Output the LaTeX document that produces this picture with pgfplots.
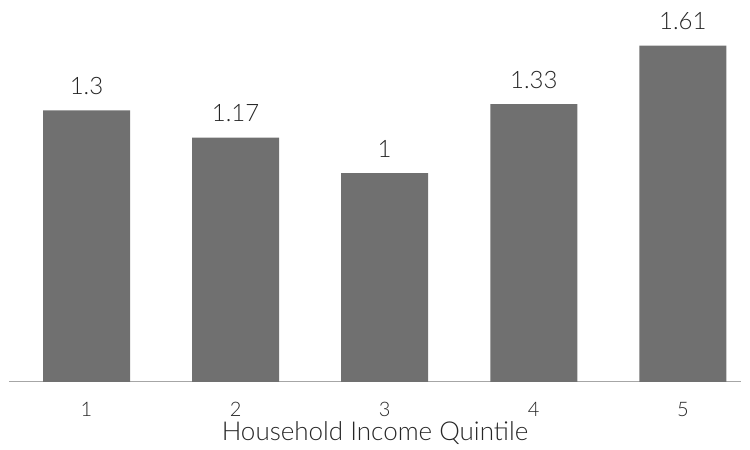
\documentclass[border=0pt]{standalone}
\usepackage{pgfplots}
\pgfplotsset{compat=1.18}
\usepackage{fontspec}
\setmainfont{Lato}[UprightFont=*-Light]
\definecolor{barc}{HTML}{707070}
\definecolor{axc}{HTML}{A6A6A6}
\begin{document}
\begin{tikzpicture}
\useasboundingbox (0,0) rectangle (750pt,450pt);
\begin{axis}[
  at={(9pt,68pt)}, anchor=south west,
  scale only axis, width=732pt, height=382pt,
  xmin=0.48, xmax=5.39, ymin=0, ymax=1.828,
  axis y line=none, axis x line*=bottom,
  axis line style={axc, line width=1pt, -},
  xtick={1,2,3,4,5}, xtick style={draw=none},
  ytick=\empty,
  xticklabel style={font=\fontsize{20}{24}\selectfont, text=black!85, anchor=center, yshift=-23pt, inner sep=1pt},
  xlabel={Household Income Quintile},
  xlabel style={font=\fontsize{26}{30}\selectfont, text=black!85, at={(axis description cs:0.5,0)}, anchor=center, yshift=-51pt, inner sep=1pt},
  /pgf/number format/assume math mode=true,
  ybar, bar width=87pt,
  nodes near coords,
  nodes near coords style={font=\fontsize{24}{28}\selectfont, text=black!85, yshift=12pt},
  point meta=explicit symbolic,
]
\addplot[fill=barc, draw=none] coordinates {(1,1.3)[1.3] (2,1.17)[1.17] (3,1)[1] (4,1.33)[1.33] (5,1.61)[1.61]};
\end{axis}
\end{tikzpicture}
\end{document}
